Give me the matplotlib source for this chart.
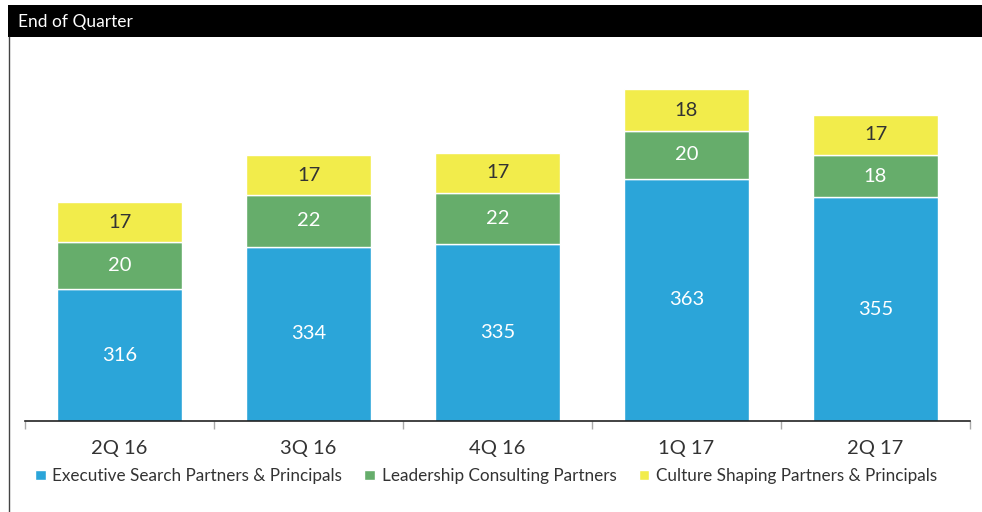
import numpy as np
import matplotlib.pyplot as plt
from matplotlib.patches import Rectangle
from matplotlib.lines import Line2D

plt.rcParams['font.family'] = ['Lato', 'DejaVu Sans']

# data
quarters = ['2Q 16', '3Q 16', '4Q 16', '1Q 17', '2Q 17']
exec_search = [316, 334, 335, 363, 355]
leadership = [20, 22, 22, 20, 18]
culture = [17, 17, 17, 18, 17]
series_names = ['Executive Search Partners & Principals',
                'Leadership Consulting Partners',
                'Culture Shaping Partners & Principals']

blue = '#2ba5d9'
green = '#66ad6b'
yellow = '#f2ec4b'

fig = plt.figure(figsize=(9.82, 5.12), dpi=100)
ax = fig.add_axes([25/982, 1 - 421/512, 945/982, 383/512])

x = np.arange(len(quarters))
w = 0.66
b1 = ax.bar(x, exec_search, w, bottom=0, color=blue, edgecolor='white', linewidth=1)
bottom2 = np.array(exec_search)
b2 = ax.bar(x, leadership, w, bottom=bottom2, color=green, edgecolor='white', linewidth=1)
bottom3 = bottom2 + np.array(leadership)
b3 = ax.bar(x, culture, w, bottom=bottom3, color=yellow, edgecolor='white', linewidth=1)

ax.set_ylim(260, 422.7)
ax.set_xlim(-0.5, len(quarters) - 0.5)

# segment labels
for i in range(len(quarters)):
    ax.text(x[i], (260 + exec_search[i]) / 2, str(exec_search[i]), ha='center', va='center',
            color='white', fontsize=14.5)
    ax.text(x[i], bottom2[i] + leadership[i] / 2, str(leadership[i]), ha='center', va='center',
            color='white', fontsize=14.5)
    ax.text(x[i], bottom3[i] + culture[i] / 2, str(culture[i]), ha='center', va='center',
            color='#333333', fontsize=14.5)

for s in ['top', 'right', 'left']:
    ax.spines[s].set_visible(False)
ax.spines['bottom'].set_color('#222222')
ax.spines['bottom'].set_linewidth(1.2)
ax.set_yticks([])
ax.set_xticks(x)
ax.set_xticklabels(quarters, fontsize=14.5, color='#333333')
ax.tick_params(axis='x', which='major', length=0, pad=14)
ax.set_xticks(np.arange(len(quarters) + 1) - 0.5, minor=True)
ax.tick_params(axis='x', which='minor', length=6, color='#aaaaaa', width=1)

# header bar
fig.patches.append(Rectangle((8/982, 1 - 37/512), 974/982, 32/512, transform=fig.transFigure,
                             facecolor='black', edgecolor='none'))
fig.text(18/982, 1 - 22/512, 'End of Quarter', color='white', fontsize=12.5, va='center', ha='left')
fig.add_artist(Line2D([9/982, 9/982], [0, 1 - 37/512], transform=fig.transFigure,
                      color='#444444', linewidth=1))

handles = [b1, b2, b3]
leg = fig.legend(handles, series_names, loc='center', bbox_to_anchor=(486/982, 1 - 476/512),
                 ncol=3, frameon=False, fontsize=12.3, handlelength=0.6, handleheight=0.6,
                 handletextpad=0.4, columnspacing=1.3)
for t in leg.get_texts():
    t.set_color('#333333')

plt.savefig('out.png', dpi=100)
